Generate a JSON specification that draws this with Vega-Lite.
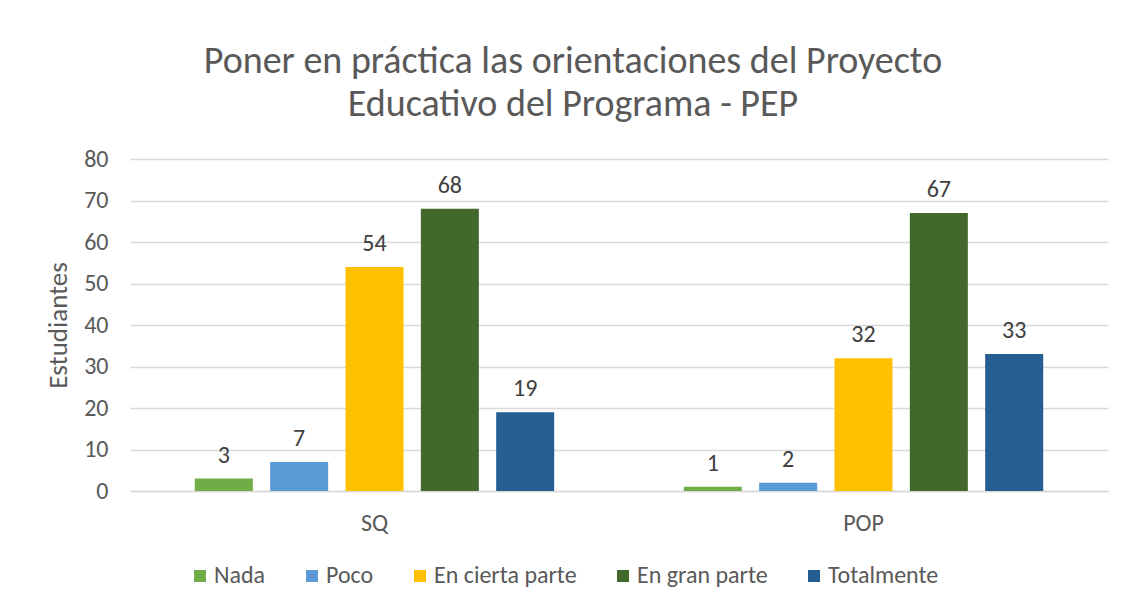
{
  "$schema": "https://vega.github.io/schema/vega-lite/v6.json",
  "width": 978,
  "height": 332,
  "autosize": {"type": "none"},
  "padding": {"left": 130, "top": 159, "right": 15, "bottom": 119},
  "background": "white",
  "config": {
    "view": {"stroke": null},
    "font": "Carlito, Lato, sans-serif"
  },
  "title": {
    "text": ["Poner en práctica las orientaciones del Proyecto", "Educativo del Programa - PEP"],
    "font": "Carlito, Lato, sans-serif",
    "fontSize": 38,
    "fontWeight": "normal",
    "color": "#595959",
    "anchor": "middle",
    "dx": -46,
    "lineHeight": 43,
    "offset": 23
  },
  "data": {
    "values": [
      {"grupo": "SQ", "nivel": "Nada", "valor": 3},
      {"grupo": "SQ", "nivel": "Poco", "valor": 7},
      {"grupo": "SQ", "nivel": "En cierta parte", "valor": 54},
      {"grupo": "SQ", "nivel": "En gran parte", "valor": 68},
      {"grupo": "SQ", "nivel": "Totalmente", "valor": 19},
      {"grupo": "POP", "nivel": "Nada", "valor": 1},
      {"grupo": "POP", "nivel": "Poco", "valor": 2},
      {"grupo": "POP", "nivel": "En cierta parte", "valor": 32},
      {"grupo": "POP", "nivel": "En gran parte", "valor": 67},
      {"grupo": "POP", "nivel": "Totalmente", "valor": 33}
    ]
  },
  "encoding": {
    "x": {
      "field": "grupo",
      "type": "nominal",
      "sort": ["SQ", "POP"],
      "scale": {"paddingInner": 0, "paddingOuter": 0},
      "axis": {
        "title": null,
        "labelAngle": 0,
        "ticks": false,
        "domain": true,
        "domainColor": "#d9d9d9",
        "domainWidth": 1.5,
        "labelFontSize": 24,
        "labelColor": "#595959",
        "labelPadding": 20
      }
    },
    "xOffset": {
      "field": "nivel",
      "type": "nominal",
      "sort": ["Nada", "Poco", "En cierta parte", "En gran parte", "Totalmente"],
      "scale": {"paddingInner": 0.23, "paddingOuter": 0.86}
    },
    "y": {
      "field": "valor",
      "type": "quantitative",
      "scale": {"domain": [0, 80]},
      "axis": {
        "title": "Estudiantes",
        "titleFontSize": 27,
        "titleFontWeight": "normal",
        "titleColor": "#595959",
        "titlePadding": 11,
        "values": [0, 10, 20, 30, 40, 50, 60, 70, 80],
        "labelFontSize": 24,
        "labelColor": "#595959",
        "labelPadding": 22,
        "ticks": false,
        "domain": false,
        "gridColor": "#d9d9d9",
        "gridWidth": 1.5
      }
    }
  },
  "layer": [
    {
      "mark": {"type": "bar"},
      "encoding": {
        "color": {
          "field": "nivel",
          "type": "nominal",
          "sort": ["Nada", "Poco", "En cierta parte", "En gran parte", "Totalmente"],
          "scale": {
            "domain": ["Nada", "Poco", "En cierta parte", "En gran parte", "Totalmente"],
            "range": ["#70AD47", "#5B9BD5", "#FFC000", "#43682B", "#255E91"]
          },
          "legend": {
            "title": null,
            "orient": "none",
            "legendX": 58,
            "legendY": 405,
            "direction": "horizontal",
            "symbolType": "square",
            "symbolSize": 144,
            "symbolStrokeWidth": 0,
            "labelFontSize": 24,
            "labelColor": "#595959",
            "labelOffset": 2,
            "columnPadding": 34
          }
        }
      }
    },
    {
      "mark": {"type": "text", "baseline": "bottom", "dy": -11, "fontSize": 24, "color": "#404040"},
      "encoding": {
        "text": {"field": "valor", "type": "quantitative"}
      }
    }
  ]
}
